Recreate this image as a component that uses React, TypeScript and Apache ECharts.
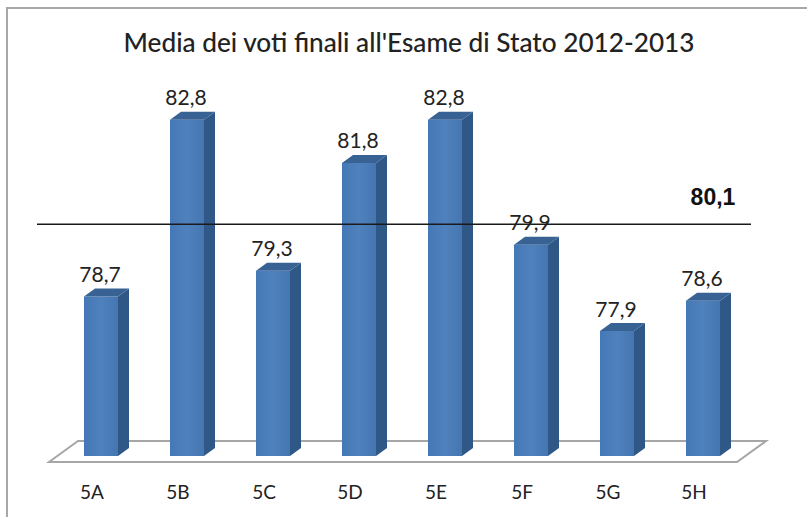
import React, { useEffect, useRef } from "react";
import * as echarts from "echarts";

const categories = ["5A", "5B", "5C", "5D", "5E", "5F", "5G", "5H"];
const values = [78.7, 82.8, 79.3, 81.8, 82.8, 79.9, 77.9, 78.6];
const averageValue = 80.1;
const titleText = "Media dei voti finali all'Esame di Stato 2012-2013";
const it = (v: number) => v.toFixed(1).replace(".", ",");

const FONT = "Lato, 'Open Sans', sans-serif";

export default function App() {
  const ref = useRef<HTMLDivElement>(null);
  useEffect(() => {
    document.body.style.margin = "0";
    document.body.style.background = "#fff";
    const chart = echarts.init(ref.current!, undefined, { renderer: "svg" });
    const GL = 49, GR = 737, GB = 462, GT = 31;
    const barRender = (_p: any, api: any) => {
      const i = api.value(0);
      const v = api.value(1);
      const [cx, cy] = api.coord([i, v]);
      const [, by] = api.coord([i, 75]);
      const w = 34, dx = 11, dy = 8;
      const x0 = cx - w / 2 + 9, x1 = x0 + w;
      const top = cy - 6, bot = by - 6;
      return {
        type: "group",
        children: [
          { type: "rect", shape: { x: x0, y: top, width: w, height: bot - top },
            style: { fill: new echarts.graphic.LinearGradient(0, 0, 1, 0, [
              { offset: 0, color: "#4478b6" }, { offset: 0.5, color: "#4f81bd" }, { offset: 1, color: "#4576b2" },
            ]) } },
          { type: "polygon", shape: { points: [[x1, top], [x1 + dx, top - dy], [x1 + dx, bot - dy], [x1, bot]] },
            style: { fill: "#2f5887" } },
          { type: "polygon", shape: { points: [[x0, top], [x0 + dx, top - dy], [x1 + dx, top - dy], [x1, top]] },
            style: { fill: "#386294" } },
          { type: "text", style: { x: x0 + w / 2 - 1, y: top - 23, text: it(v), fill: "#222",
            font: `21px ${FONT}`, align: "center", verticalAlign: "middle" } },
        ],
      };
    };
    const floorRender = (_p: any, api: any) => {
      const a = api.coord([0, 75]);
      const band = api.size([1, 0])[0];
      const left = a[0] - band / 2;
      const right = left + band * categories.length;
      const y = a[1];
      return {
        type: "polygon",
        shape: { points: [[left, y], [left + 29, y - 21], [right + 29, y - 21], [right, y]] },
        style: { fill: "#fff", stroke: "#a6a6a6", lineWidth: 2 },
      };
    };
    const lineRender = (_p: any, api: any) => {
      const v = api.value(0);
      const a = api.coord([0, v]);
      const band = api.size([1, 0])[0];
      const left = a[0] - band / 2;
      const right = left + band * categories.length;
      const y = a[1] - 18;
      return {
        type: "group",
        children: [
          { type: "line", shape: { x1: left - 12, y1: y, x2: right + 14, y2: y },
            style: { stroke: "#1a1a1a", lineWidth: 1.5 } },
          { type: "text", style: { x: right - 24, y: y - 27, text: it(v), fill: "#111",
            font: "bold 23px 'Liberation Sans', Arial, sans-serif", align: "center", verticalAlign: "middle" } },
        ],
      };
    };
    chart.setOption({
      animation: false,
      backgroundColor: "#fff",
      title: {
        text: titleText, left: 404, top: 24, textAlign: "center",
        textStyle: { fontFamily: FONT, fontSize: 26.2, fontWeight: 500, color: "#222" },
      },
      grid: { left: GL, top: GT, width: GR - GL, height: GB - GT },
      xAxis: {
        type: "category", data: categories,
        axisLine: { show: false }, axisTick: { show: false },
        axisLabel: { margin: 20, fontFamily: FONT, fontSize: 19, color: "#222" },
      },
      yAxis: { type: "value", min: 75, max: 85, show: false },
      graphic: [
        { type: "line", shape: { x1: 7, y1: 8, x2: 807, y2: 8 }, style: { stroke: "#a8a8a8", lineWidth: 2 } },
        { type: "line", shape: { x1: 7, y1: 7, x2: 7, y2: 517 }, style: { stroke: "#a8a8a8", lineWidth: 2 } },
      ],
      series: [
        { type: "custom", silent: true, z: 1, renderItem: floorRender, data: [[0]], clip: false },
        { type: "custom", silent: true, z: 2, renderItem: barRender, data: values.map((v, i) => [i, v]), clip: false },
        { type: "custom", silent: true, z: 3, renderItem: lineRender, data: [[averageValue]], clip: false, encode: { y: 0 } },
      ],
    });
    return () => chart.dispose();
  }, []);
  return <div ref={ref} style={{ width: 807, height: 517 }} />;
}
